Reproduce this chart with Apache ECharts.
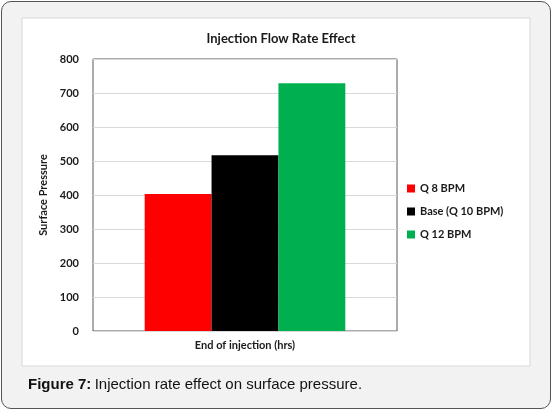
<!DOCTYPE html>
<html><head><meta charset="utf-8">
<script src="https://cdn.jsdelivr.net/npm/echarts@6/dist/echarts.min.js"></script>
<style>
html,body{margin:0;padding:0;background:#fff;}
#frame{position:absolute;left:1px;top:1px;width:548px;height:406px;border:1px solid #555;border-radius:10px;background:#f2f2f2;}
#c{position:absolute;left:0;top:0;width:552px;height:410px;}
</style></head><body>
<div id="frame"></div>
<div id="c"></div>
<script>
const categories = ['End of injection (hrs)'];
const seriesNames = ['Q 8 BPM', 'Base (Q 10 BPM)', 'Q 12 BPM'];
const seriesValues = [[403], [517], [729]];
const seriesColors = ['#ff0000', '#000000', '#00b050'];
const yTicks = {min: 0, max: 800, interval: 100};

const chart = echarts.init(document.getElementById('c'), null, {renderer: 'canvas'});
const font = 'Lato, "Open Sans", sans-serif';
chart.setOption({
  backgroundColor: 'transparent',
  title: {text: 'Injection Flow Rate Effect', left: 276, top: 27, textAlign: 'center',
    textStyle: {fontFamily: font, fontWeight: 'bold', fontSize: 13, color: '#1a1a1a'}},
  graphic: [
    {type: 'rect', z: -10, shape: {x: 22, y: 18, width: 508, height: 348},
     style: {fill: '#fff', stroke: '#d9d9d9', lineWidth: 1}},
    {type: 'text', left: 28, top: 377, z: 10,
     style: {rich: {b: {fontWeight: 'bold', fontFamily: '"Liberation Sans", Arial', fontSize: 15, fill: '#111'},
                    n: {fontFamily: '"Liberation Sans", Arial', fontSize: 15, fill: '#111'}},
             text: '{b|Figure 7:} {n|Injection rate effect on surface pressure.}'}}
  ],
  legend: {orient: 'vertical', left: 402, top: 178, itemWidth: 8, itemHeight: 8, itemGap: 12,
    icon: 'rect', data: seriesNames,
    textStyle: {fontFamily: font, fontWeight: 'bold', fontSize: 11, color: '#1a1a1a'}},
  grid: {left: 93, right: 155, top: 59, bottom: 79, show: true, borderColor: '#595959', borderWidth: 1},
  xAxis: {type: 'category', data: categories,
    axisLine: {show: false}, axisTick: {show: false},
    axisLabel: {fontFamily: font, fontWeight: 'bold', fontSize: 11, color: '#1a1a1a', margin: 9}},
  yAxis: {type: 'value', min: yTicks.min, max: yTicks.max, interval: yTicks.interval,
    name: 'Surface Pressure', nameLocation: 'middle', nameGap: 42, nameRotate: 90,
    nameTextStyle: {fontFamily: font, fontWeight: 'bold', fontSize: 11, color: '#1a1a1a'},
    axisLabel: {fontFamily: font, fontWeight: 'bold', fontSize: 11, color: '#1a1a1a', margin: 14},
    splitLine: {lineStyle: {color: '#d9d9d9'}}, axisLine: {show: false}, axisTick: {show: false}},
  series: seriesNames.map((n, i) => ({
    name: n, type: 'bar', data: seriesValues[i], barGap: '0%', barCategoryGap: '34%',
    itemStyle: {color: seriesColors[i]}
  }))
});
</script></body></html>
